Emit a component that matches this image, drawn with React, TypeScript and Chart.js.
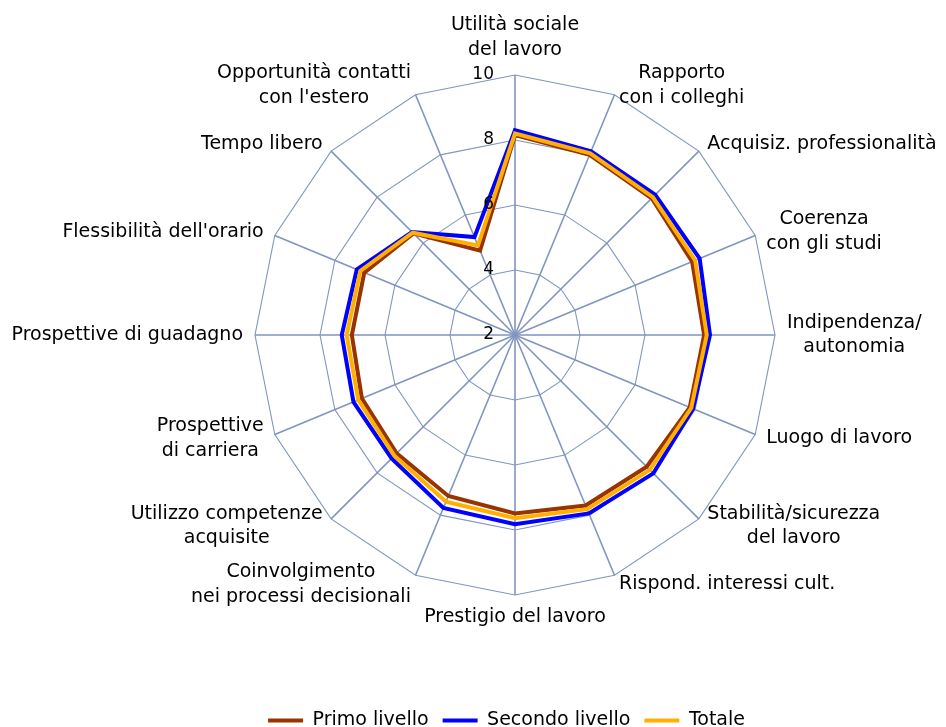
import { useEffect, useRef } from 'react';
import { Chart, registerables } from 'chart.js';

Chart.register(...registerables);

// ---- Data ----
const categories: string[][] = [
  ['Utilità sociale', 'del lavoro'],
  ['Rapporto', 'con i colleghi'],
  ['Acquisiz. professionalità'],
  ['Coerenza', 'con gli studi'],
  ['Indipendenza/', 'autonomia'],
  ['Luogo di lavoro'],
  ['Stabilità/sicurezza', 'del lavoro'],
  ['Rispond. interessi cult.'],
  ['Prestigio del lavoro'],
  ['Coinvolgimento', 'nei processi decisionali'],
  ['Utilizzo competenze', 'acquisite'],
  ['Prospettive', 'di carriera'],
  ['Prospettive di guadagno'],
  ["Flessibilità dell'orario"],
  ['Tempo libero'],
  ['Opportunità contatti', "con l'estero"],
];

const primoLivello = [8.15, 8.0, 7.95, 7.9, 7.82, 7.82, 7.73, 7.68, 7.49, 7.36, 7.15, 7.1, 7.02, 7.02, 6.42, 4.81];
const secondoLivello = [8.3, 8.12, 8.1, 8.15, 8.0, 7.93, 8.02, 7.94, 7.82, 7.76, 7.37, 7.38, 7.33, 7.27, 6.48, 5.26];
const totale = [8.2, 8.05, 8.0, 8.0, 7.9, 7.87, 7.87, 7.8, 7.64, 7.55, 7.25, 7.22, 7.18, 7.15, 6.45, 4.98];

const seriesNames = ['Primo livello', 'Secondo livello', 'Totale'];
const seriesColors = ['#993300', '#0000FF', '#FFB000'];

const scaleMin = 2;
const scaleMax = 10;
const scaleStep = 2;

// ---- Styling ----
const FONT = '"DejaVu Sans", sans-serif';
const GRID = '#8195C0';
const CX = 515;
const CY = 335;
const RADIUS = 260;

const labelsPlugin = {
  id: 'radarLabels',
  afterDraw(chart: any) {
    const scale = chart.scales.r;
    const ctx = chart.ctx as CanvasRenderingContext2D;
    ctx.save();
    ctx.fillStyle = '#000';
    ctx.textBaseline = 'middle';
    ctx.textAlign = 'center';

    // category labels
    ctx.font = `19px ${FONT}`;
    const R = scale.drawingArea;
    const lh = 24.5;
    categories.forEach((lines, i) => {
      const p = scale.getPointPosition(i, R);
      const ang = scale.getIndexAngle(i);
      const s = Math.sin(ang);
      const c = Math.cos(ang);
      const bw = Math.max(...lines.map((l) => ctx.measureText(l).width));
      const n = lines.length;
      let left: number;
      let firstY: number;
      if (Math.abs(s) < 0.01) {
        left = p.x - bw / 2;
        if (c > 0) {
          firstY = p.y - 25.3 - (n - 1) * lh;
        } else {
          firstY = p.y + 22;
        }
      } else {
        const dx = 12 * s;
        left = s > 0 ? p.x + dx : p.x + dx - bw;
        const cy = p.y - 10 * c;
        firstY = cy - ((n - 1) * lh) / 2;
      }
      lines.forEach((l, k) => {
        ctx.fillText(l, left + bw / 2, firstY + k * lh);
      });
    });

    // tick labels
    ctx.font = `17px ${FONT}`;
    ctx.textAlign = 'right';
    scale.ticks.forEach((t: any) => {
      const d = scale.getDistanceFromCenterForValue(t.value);
      ctx.fillText(String(t.value), scale.xCenter - 21, scale.yCenter - d);
    });
    ctx.restore();
  },
};

export default function App() {
  const ref = useRef<HTMLCanvasElement | null>(null);

  useEffect(() => {
    if (!ref.current) return;
    Chart.defaults.font.family = FONT;
    const seriesData = [primoLivello, secondoLivello, totale];
    const chart = new Chart(ref.current, {
      type: 'radar',
      data: {
        labels: categories,
        datasets: seriesData.map((d, i) => ({
          label: seriesNames[i],
          data: d,
          borderColor: seriesColors[i],
          backgroundColor: seriesColors[i],
          borderWidth: 4,
          pointRadius: 0,
          pointHoverRadius: 0,
          fill: false,
          tension: 0,
          order: 2 - i,
        })),
      },
      options: {
        responsive: false,
        animation: false,
        events: [],
        layout: { padding: { left: 67, right: 0, top: 0, bottom: -13 } },
        scales: {
          r: {
            min: scaleMin,
            max: scaleMax,
            ticks: { display: false, stepSize: scaleStep },
            grid: { color: GRID, lineWidth: 1.1, circular: false },
            angleLines: { color: GRID, lineWidth: 1.6 },
            pointLabels: { display: false },
            afterFit: (s: any) => {
              s.xCenter = CX;
              s.yCenter = CY;
              s.drawingArea = RADIUS;
            },
          },
        },
        plugins: {
          tooltip: { enabled: false },
          legend: {
            position: 'bottom',
            labels: {
              font: { size: 19, family: FONT },
              color: '#000',
              boxWidth: 35,
              boxHeight: 4,
              padding: 14,
              generateLabels: (ch: any) =>
                ch.data.datasets.map((ds: any, i: number) => ({
                  text: ds.label,
                  fillStyle: ds.borderColor,
                  strokeStyle: ds.borderColor,
                  lineWidth: 0,
                  hidden: false,
                  datasetIndex: i,
                  fontColor: '#000',
                })),
            },
          },
        },
      },
      plugins: [labelsPlugin],
    } as any);
    return () => chart.destroy();
  }, []);

  return (
    <div style={{ position: 'absolute', left: 0, top: 0, width: 946, height: 727, background: '#fff' }}>
      <canvas ref={ref} width={946} height={727} />
    </div>
  );
}
